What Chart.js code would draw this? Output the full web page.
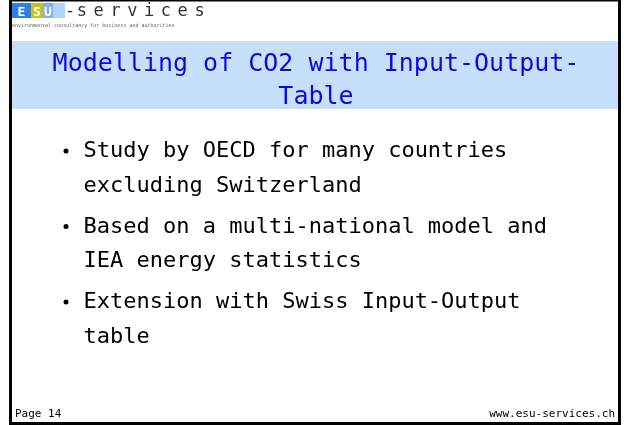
<!DOCTYPE html>
<html>
<head>
<meta charset="utf-8">
<script src="https://cdn.jsdelivr.net/npm/chart.js@4/dist/chart.umd.min.js"></script>
<style>
  html, body { margin: 0; padding: 0; background: #fff; }
  #slide { display: block; }
</style>
</head>
<body>
<canvas id="slide" width="624" height="425"></canvas>
<script>
// slide content
const logoLetters = ['E', 'S', 'U'];
const logoWord = '-services';
const logoTagline = 'environmental consultancy for business and authorities';
const titleLines = ['Modelling of CO2 with Input-Output-', 'Table'];
const bulletItems = [
  ['Study by OECD for many countries', 'excluding Switzerland'],
  ['Based on a multi-national model and', 'IEA energy statistics'],
  ['Extension with Swiss Input-Output', 'table']
];
const footerLeft = 'Page 14';
const footerRight = 'www.esu-services.ch';

const mono = '"DejaVu Sans Mono", monospace';

const slidePlugin = {
  id: 'slide',
  beforeDraw(chart) {
    const ctx = chart.ctx;
    ctx.save();
    ctx.fillStyle = '#fff';
    ctx.fillRect(0, 0, 624, 425);

    // logo blocks
    const blockCols = ['#2f80e6', '#c9c21e', '#7fb1f2'];
    const blockX = [12, 31, 43];
    const blockW = [19, 12, 10];
    for (let i = 0; i < logoLetters.length; i++) {
      ctx.fillStyle = blockCols[i];
      ctx.fillRect(blockX[i], 3, blockW[i], 15);
      ctx.fillStyle = '#fff';
      ctx.font = 'bold 13px ' + mono;
      ctx.textAlign = 'center';
      ctx.textBaseline = 'alphabetic';
      ctx.fillText(logoLetters[i], blockX[i] + blockW[i] / 2, 16);
    }
    ctx.fillStyle = '#b3d2f8';
    ctx.fillRect(53, 3, 12, 15);

    ctx.fillStyle = '#333';
    ctx.font = '17px ' + mono;
    ctx.textAlign = 'left';
    for (let i = 0; i < logoWord.length; i++) {
      ctx.fillText(logoWord[i], 65 + i * 16.8 - (i > 0 ? 5 : 0), 16);
    }
    ctx.fillStyle = '#555';
    ctx.font = '5px ' + mono;
    ctx.fillText(logoTagline, 12, 27);

    // title band
    ctx.fillStyle = '#c6e0fb';
    ctx.fillRect(12, 41, 606, 68);
    ctx.fillStyle = '#0a0ae6';
    ctx.font = '25px ' + mono;
    ctx.textAlign = 'center';
    titleLines.forEach((t, i) => ctx.fillText(t, 316, 71 + i * 32.5));

    // bullets
    ctx.textAlign = 'left';
    ctx.fillStyle = '#000';
    ctx.font = '22px ' + mono;
    let y = 157;
    bulletItems.forEach(lines => {
      ctx.beginPath();
      ctx.arc(66, y - 6, 2.5, 0, Math.PI * 2);
      ctx.fill();
      lines.forEach((t, j) => {
        ctx.fillText(t, 83.5, y);
        y += (j < lines.length - 1) ? 34.5 : 41;
      });
    });

    // footer
    ctx.font = '11px ' + mono;
    ctx.fillText(footerLeft, 15, 417);
    ctx.textAlign = 'right';
    ctx.fillText(footerRight, 615, 417);

    // frame
    ctx.fillStyle = '#000';
    ctx.fillRect(9, 0, 3, 425);
    ctx.fillRect(618, 0, 3, 425);
    ctx.fillRect(9, 422, 612, 3);
    ctx.fillRect(9, 0, 612, 1.5);
    ctx.restore();
  }
};

new Chart(document.getElementById('slide').getContext('2d'), {
  type: 'bar',
  data: { labels: [], datasets: [] },
  options: {
    responsive: false,
    animation: false,
    events: [],
    plugins: { legend: { display: false }, tooltip: { enabled: false } },
    scales: { x: { display: false }, y: { display: false } }
  },
  plugins: [slidePlugin]
});
</script>
</body>
</html>
